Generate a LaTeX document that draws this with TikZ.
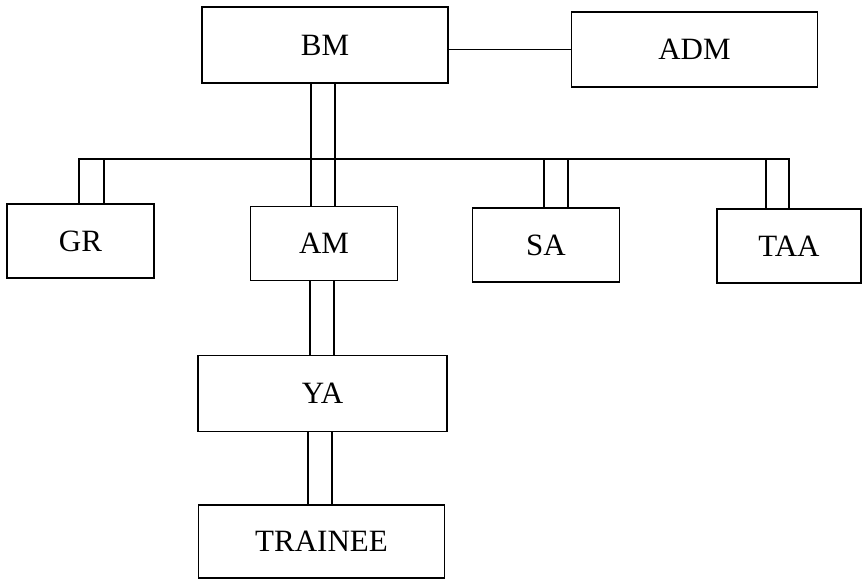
\documentclass[tikz,border=0pt]{standalone}
\usepackage{fontspec}
\setmainfont{Liberation Serif}
\begin{document}
\begin{tikzpicture}[x=1pt,y=1pt]
        \tikzstyle{post} = [rectangle, minimum width=147pt, minimum height=74pt, text centered, draw=black, line width=1.6pt, font=\fontsize{31}{36}\selectfont]
        \tikzstyle{wide} = [post, minimum width=246pt, minimum height=76pt]
        \tikzstyle{link} = [line width=1.6pt]

                \useasboundingbox (0,0) rectangle (863,-582);

                \node (bm) [wide] at (325,-45) {BM};
                \node (adm) [wide, minimum height=75pt] at (694.5,-49.5) {ADM};
                \node (gr) [post] at (80.5,-241) {GR};
                \node (am) [post] at (324,-243.5) {AM};
                \node (sa) [post] at (546,-245) {SA};
                \node (taa) [post, minimum width=144pt] at (789,-246) {TAA};
                \node (ya) [wide, minimum width=249pt] at (322.5,-393.5) {YA};
                \node (trainee) [wide, minimum height=73pt] at (321.5,-541.5) {TRAINEE};
                \coordinate (bus) at (0,-159);

                \draw[link] (adm.west) -- (adm.west -| bm.east);
                \draw[link] ([xshift=-14pt]bm.south) -- ([xshift=-14pt]bm.south |- am.north);
                \draw[link] ([xshift=10pt]bm.south) -- ([xshift=10pt]bm.south |- am.north);
                \draw[link] ([xshift=-1.5pt]gr.north) -- ([xshift=-1.5pt]gr.north |- bus) -- (taa.north |- bus) -- (taa.north);
                \draw[link] ([xshift=23.5pt]gr.north) -- ([xshift=23.5pt]gr.north |- bus);
                \draw[link] ([xshift=-2pt]sa.north) -- ([xshift=-2pt]sa.north |- bus);
                \draw[link] ([xshift=22pt]sa.north) -- ([xshift=22pt]sa.north |- bus);
                \draw[link] ([xshift=-23pt]taa.north) -- ([xshift=-23pt]taa.north |- bus);
                \draw[link] ([xshift=-14pt]am.south) -- ([xshift=-14pt]am.south |- ya.north);
                \draw[link] ([xshift=10pt]am.south) -- ([xshift=10pt]am.south |- ya.north);
                \draw[link] ([xshift=-14.5pt]ya.south) -- ([xshift=-14.5pt]ya.south |- trainee.north);
                \draw[link] ([xshift=9.5pt]ya.south) -- ([xshift=9.5pt]ya.south |- trainee.north);

    \end{tikzpicture}
\end{document}
